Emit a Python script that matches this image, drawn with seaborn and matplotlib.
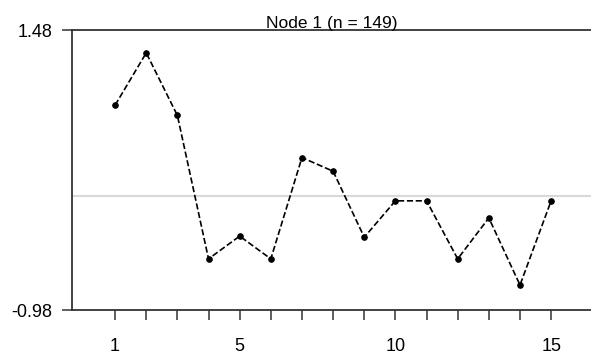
import seaborn as sns
import matplotlib.pyplot as plt
import pandas as pd

# Data
positions = list(range(1, 16))
values = [0.82, 1.28, 0.73, -0.53, -0.33, -0.53, 0.36, 0.24, -0.34,
          -0.02, -0.02, -0.53, -0.17, -0.76, -0.02]
ref_level = 0.02
y_ticks = [-0.98, 1.48]
x_labels = {1: "1", 5: "5", 10: "10", 15: "15"}
title = "Node 1 (n = 149)"

df = pd.DataFrame({"pos": positions, "value": values})

sns.set_theme(style="white")
plt.rcParams['font.family'] = ['Liberation Sans', 'DejaVu Sans']

fig = plt.figure(figsize=(5.91, 3.54), dpi=100)
ax = fig.add_axes([0.122, 0.124, 0.878, 0.791])

# light reference line
ax.axhline(ref_level, color="#d9d9d9", lw=1.5, zorder=1)

sns.lineplot(data=df, x="pos", y="value", ax=ax, color="black",
             linestyle="--", lw=1.2, marker="o", markersize=4,
             markeredgecolor="black", zorder=3)

ax.set_xlim(-0.38, 16.28)
ax.set_ylim(y_ticks[0], y_ticks[1])
ax.set_yticks(y_ticks)
ax.set_yticklabels([f"{v:.2f}" for v in y_ticks])
ax.set_xticks(positions)
ax.set_xticklabels([x_labels.get(p, "") for p in positions])
ax.set_xlabel("")
ax.set_ylabel("")

for side in ["left", "bottom", "top"]:
    ax.spines[side].set_color("#333333")
    ax.spines[side].set_linewidth(1.3)
ax.spines["right"].set_visible(False)

ax.tick_params(axis="both", direction="out", length=7, width=1.1,
               color="#333333", labelsize=13, labelcolor="black",
               left=True, bottom=True)
ax.tick_params(axis="x", pad=13)
ax.tick_params(axis="y", pad=7)

ax.set_title(title, fontsize=12.5, pad=1.5, color="black")

fig.savefig("out.png", dpi=100, facecolor="white")
